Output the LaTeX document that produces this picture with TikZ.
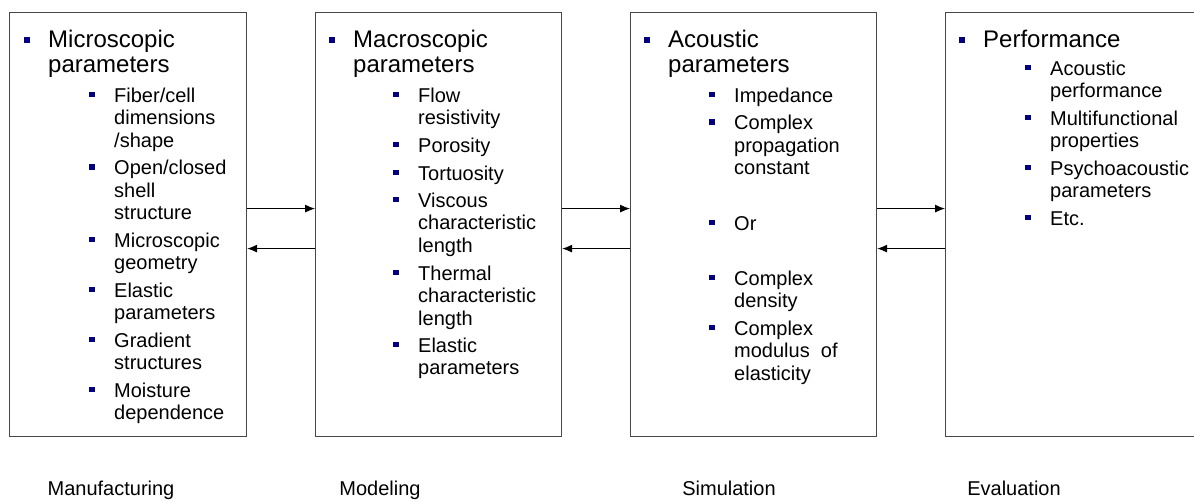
\documentclass[tikz,border=0pt]{standalone}
\usepackage{fontspec}
\setmainfont{Liberation Sans}
\usetikzlibrary{arrows.meta}
\definecolor{navy}{RGB}{0,0,128}
\definecolor{boxgray}{RGB}{72,72,72}
\newcommand{\mkitemA}[4]{%
  \fill[navy] ({#2-21-3},{#3-7.5-3}) rectangle ++(6,6);
  \node[lvone] (#1) at (#2,#3) {\begin{tabular}[t]{@{}l@{}}#4\end{tabular}};}
\newcommand{\mkitemB}[4]{%
  \fill[navy] ({#2-22-2.75},{#3-7.5-2.75}) rectangle ++(5.5,5.5);
  \node[lvtwo] (#1) at (#2,#3) {\begin{tabular}[t]{@{}l@{}}#4\end{tabular}};}
\tikzset{
  box/.style={draw=boxgray, line width=1.2pt, inner sep=0, anchor=north west, minimum height=424pt},
  lvone/.style={font=\fontsize{24}{25}\selectfont, inner sep=0, anchor=base west, text=black},
  lvtwo/.style={font=\fontsize{20}{22.5}\selectfont, inner sep=0, anchor=base west, text=black},
  lab/.style={font=\fontsize{20}{24}\selectfont, inner sep=0, anchor=base, text=black},
  arr/.style={draw=black, line width=0.9pt, -{Latex[length=10pt,width=8pt]}}
}
\begin{document}
\begin{tikzpicture}[x=1pt,y=-1pt]
\clip (0,0) rectangle (1194,501);
\fill[white] (0,0) rectangle (1194,501);
% boxes
\node[box, minimum width=237pt] (b1) at (9,12) {};
\node[box, minimum width=246pt] (b2) at (315,12) {};
\node[box, minimum width=246pt] (b3) at (630,12) {};
\node[box, minimum width=270pt] (b4) at (945,12) {};
% arrows
\draw[arr] ([yshift=16pt]b1.east) -- ([yshift=16pt]b2.west);
\draw[arr] ([yshift=-24pt]b2.west) -- ([yshift=-24pt]b1.east);
\draw[arr] ([yshift=16pt]b2.east) -- ([yshift=16pt]b3.west);
\draw[arr] ([yshift=-24pt]b3.west) -- ([yshift=-24pt]b2.east);
\draw[arr] ([yshift=16pt]b3.east) -- ([yshift=16pt]b4.west);
\draw[arr] ([yshift=-24pt]b4.west) -- ([yshift=-24pt]b3.east);
% box 1
\mkitemA{b1h}{48}{47}{Microscopic\\parameters}
\mkitemB{b1a}{114}{102}{Fiber/cell\\dimensions\\/shape}
\mkitemB{b1b}{114}{174.5}{Open/closed\\shell\\structure}
\mkitemB{b1c}{114}{247}{Microscopic\\geometry}
\mkitemB{b1d}{114}{297}{Elastic\\parameters}
\mkitemB{b1e}{114}{347}{Gradient\\structures}
\mkitemB{b1f}{114}{397}{Moisture\\dependence}
% box 2
\mkitemA{b2h}{353}{47}{Macroscopic\\parameters}
\mkitemB{b2a}{418}{102}{Flow\\resistivity}
\mkitemB{b2b}{418}{152}{Porosity}
\mkitemB{b2c}{418}{180}{Tortuosity}
\mkitemB{b2d}{418}{207}{Viscous\\characteristic\\length}
\mkitemB{b2e}{418}{280}{Thermal\\characteristic\\length}
\mkitemB{b2f}{418}{352}{Elastic\\parameters}
% box 3
\mkitemA{b3h}{668}{47}{Acoustic\\parameters}
\mkitemB{b3a}{734}{102}{Impedance}
\mkitemB{b3b}{734}{129.5}{Complex\\propagation\\constant}
\mkitemB{b3c}{734}{230}{Or}
\mkitemB{b3d}{734}{285}{Complex\\density}
\mkitemB{b3e}{734}{335}{Complex\\modulus\ \ of\\elasticity}
% box 4
\mkitemA{b4h}{983}{47}{Performance}
\mkitemB{b4a}{1050}{75}{Acoustic\\performance}
\mkitemB{b4b}{1050}{125}{Multifunctional\\properties}
\mkitemB{b4c}{1050}{175}{Psychoacoustic\\parameters}
\mkitemB{b4d}{1050}{225}{Etc.}
% labels
\node[lab] (l1) at (111,495) {Manufacturing};
\node[lab] (l2) at (380,495) {Modeling};
\node[lab] (l3) at (729,495) {Simulation};
\node[lab] (l4) at (1014,495) {Evaluation};
\end{tikzpicture}
\end{document}
